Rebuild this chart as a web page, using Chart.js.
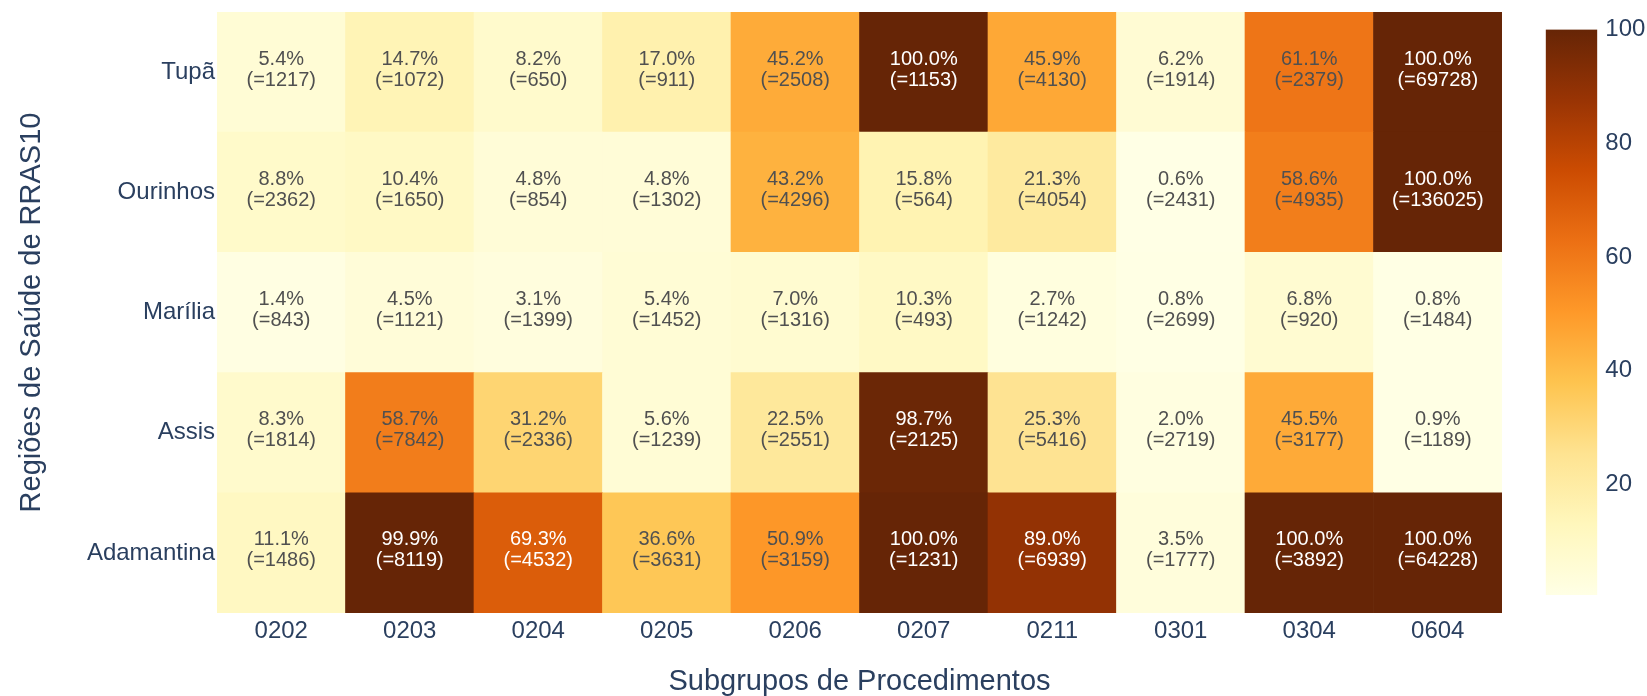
<!DOCTYPE html>
<html>
<head>
<meta charset="utf-8">
<script src="https://cdn.jsdelivr.net/npm/chart.js@4"></script>
<style>
  html, body { margin: 0; padding: 0; background: #fff; }
  #wrap { position: relative; width: 1647px; height: 696px; }
  #heat { position: absolute; left: 0; top: 0; }
  #barra { position: absolute; left: 1500px; top: 0; }
</style>
</head>
<body>
<div id="wrap">
  <canvas id="heat" width="1647" height="696"></canvas>
  <canvas id="barra" width="147" height="696"></canvas>
</div>
<script>
// categorias
const subgrupos = ["0202", "0203", "0204", "0205", "0206", "0207", "0211", "0301", "0304", "0604"];
const regioes = ["Tupã", "Ourinhos", "Marília", "Assis", "Adamantina"];

// percentuais por região (%)
const pctTupa       = [5.4, 14.7, 8.2, 17.0, 45.2, 100.0, 45.9, 6.2, 61.1, 100.0];
const pctOurinhos   = [8.8, 10.4, 4.8, 4.8, 43.2, 15.8, 21.3, 0.6, 58.6, 100.0];
const pctMarilia    = [1.4, 4.5, 3.1, 5.4, 7.0, 10.3, 2.7, 0.8, 6.8, 0.8];
const pctAssis      = [8.3, 58.7, 31.2, 5.6, 22.5, 98.7, 25.3, 2.0, 45.5, 0.9];
const pctAdamantina = [11.1, 99.9, 69.3, 36.6, 50.9, 100.0, 89.0, 3.5, 100.0, 100.0];

// totais por região
const nTupa       = [1217, 1072, 650, 911, 2508, 1153, 4130, 1914, 2379, 69728];
const nOurinhos   = [2362, 1650, 854, 1302, 4296, 564, 4054, 2431, 4935, 136025];
const nMarilia    = [843, 1121, 1399, 1452, 1316, 493, 1242, 2699, 920, 1484];
const nAssis      = [1814, 7842, 2336, 1239, 2551, 2125, 5416, 2719, 3177, 1189];
const nAdamantina = [1486, 8119, 4532, 3631, 3159, 1231, 6939, 1777, 3892, 64228];

// escala de cores
const escalaMin = 0.6;
const escalaMax = 100;
const ticksEscala = [20, 40, 60, 80, 100];

const percentuais = [pctTupa, pctOurinhos, pctMarilia, pctAssis, pctAdamantina];
const totais = [nTupa, nOurinhos, nMarilia, nAssis, nAdamantina];

const escala = [
  [255, 255, 229], [255, 247, 188], [254, 227, 145], [254, 196, 79], [254, 153, 41],
  [236, 112, 20], [204, 76, 2], [153, 52, 4], [102, 37, 6]
];

const corTexto = "#2a3f5f";
const fonte = "'Liberation Sans', Arial, Helvetica, sans-serif";
Chart.defaults.font.family = fonte;

// cor da celula
function corDe(v) {
  let t = (v - escalaMin) / (escalaMax - escalaMin);
  t = Math.max(0, Math.min(1, t));
  let pos = t * (escala.length - 1);
  let i = Math.min(Math.floor(pos), escala.length - 2);
  let f = pos - i;
  let a = escala[i], b = escala[i + 1];
  let c = a.map((x, k) => Math.round(x + (b[k] - x) * f));
  return `rgb(${c[0]},${c[1]},${c[2]})`;
}

// linhas de baixo para cima
const ordem = [4, 3, 2, 1, 0];

const datasets = ordem.map(r => ({
  label: regioes[r],
  data: subgrupos.map(() => 1),
  backgroundColor: ctx => corDe(percentuais[r][ctx.dataIndex]),
  borderWidth: 0,
  barPercentage: 1,
  categoryPercentage: 1
}));

// texto dentro das celulas
const textoCelulas = {
  id: "textoCelulas",
  afterDatasetsDraw(chart) {
    const { ctx, scales: { x, y } } = chart;
    ctx.save();
    ctx.font = "20px " + fonte;
    ctx.textAlign = "center";
    ctx.textBaseline = "middle";
    regioes.forEach((nome, r) => {
      const yc = y.getPixelForValue(4 - r + 0.5);
      subgrupos.forEach((s, j) => {
        const xc = x.getPixelForValue(j);
        const v = percentuais[r][j];
        ctx.fillStyle = v > 65 ? "#ffffff" : "#505050";
        ctx.fillText(v.toFixed(1) + "%", xc, yc - 13);
        ctx.fillText("(=" + totais[r][j] + ")", xc, yc + 8);
      });
    });
    ctx.restore();
  }
};

new Chart(document.getElementById("heat"), {
  type: "bar",
  data: { labels: subgrupos, datasets: datasets },
  options: {
    responsive: false,
    animation: false,
    layout: { padding: { left: 0, top: 12, right: 145, bottom: 0 } },
    plugins: { legend: { display: false }, tooltip: { enabled: false } },
    scales: {
      x: {
        stacked: true,
        grid: { display: false, drawTicks: false },
        border: { display: false },
        ticks: { color: corTexto, font: { size: 24 }, padding: 4, maxRotation: 0 },
        title: {
          display: true, text: "Subgrupos de Procedimentos", color: corTexto,
          font: { size: 29, lineHeight: 1 }, padding: { top: 0, bottom: 0 }
        },
        afterFit: s => { s.height = 83; }
      },
      y: {
        stacked: true,
        min: 0,
        max: 5,
        grid: { display: false, drawTicks: false },
        border: { display: false },
        afterBuildTicks: s => { s.ticks = [0.5, 1.5, 2.5, 3.5, 4.5].map(v => ({ value: v })); },
        ticks: {
          color: corTexto, font: { size: 24, lineHeight: 0.8 }, padding: 2,
          callback: (v, i) => regioes[ordem[i]]
        },
        title: {
          display: true, text: "Regiões de Saúde de RRAS10", color: corTexto,
          font: { size: 29, lineHeight: 1 }, padding: { top: 17, bottom: 0 }
        },
        afterFit: s => { s.width = 217; }
      }
    }
  },
  plugins: [textoCelulas]
});

// barra de cores
new Chart(document.getElementById("barra"), {
  type: "bar",
  data: {
    labels: [""],
    datasets: [{
      data: [[escalaMin, escalaMax]],
      backgroundColor: ctx => {
        const ca = ctx.chart.chartArea;
        if (!ca) return corDe(escalaMin);
        const g = ctx.chart.ctx.createLinearGradient(0, ca.bottom, 0, ca.top);
        escala.forEach((c, i) => g.addColorStop(i / (escala.length - 1), `rgb(${c[0]},${c[1]},${c[2]})`));
        return g;
      },
      borderWidth: 0,
      barPercentage: 1,
      categoryPercentage: 1
    }]
  },
  options: {
    responsive: false,
    animation: false,
    layout: { padding: { left: 45.7, top: 29.5, right: 0, bottom: 101 } },
    plugins: { legend: { display: false }, tooltip: { enabled: false } },
    scales: {
      x: { display: false },
      y: {
        position: "right",
        min: escalaMin,
        max: escalaMax,
        grid: { display: false, drawTicks: false },
        border: { display: false },
        afterBuildTicks: s => { s.ticks = ticksEscala.map(v => ({ value: v })); },
        ticks: { color: corTexto, font: { size: 24 }, padding: 8 },
        afterFit: s => { s.width = 49.7; }
      }
    }
  }
});
</script>
</body>
</html>
